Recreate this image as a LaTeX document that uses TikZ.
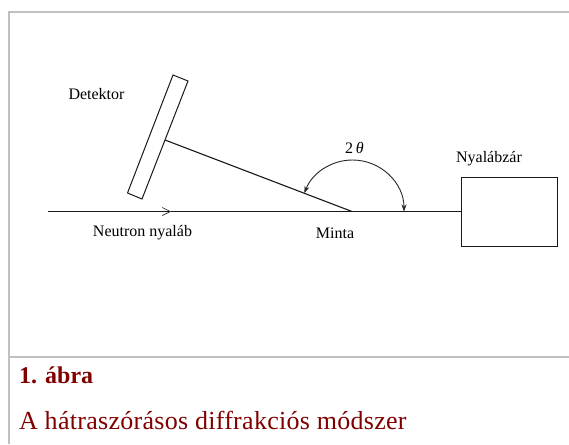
\documentclass[tikz,border=0pt]{standalone}
\usepackage{fontspec}
\setmainfont{Liberation Serif}
\usetikzlibrary{arrows.meta}
\definecolor{capred}{HTML}{800000}
\definecolor{framegray}{HTML}{C0C0C0}
\tikzset{
  lbl/.style={inner sep=0pt,font=\fontsize{16}{18}\selectfont,text=black},
  captext/.style={inner sep=0pt,anchor=base west,text=capred},
  framerule/.style={draw=framegray,line width=2.6pt},
  ink/.style={draw=black!90,line width=1pt},
}
\begin{document}
\begin{tikzpicture}[x=1pt,y=-1pt]
\useasboundingbox (0,0) rectangle (569,444);
\fill[white] (0,0) rectangle (569,444);
% frame
\coordinate (tl) at (9,12);
\coordinate (tr) at (569,12);
\coordinate (bl) at (9,444);
\coordinate (ml) at (9,357);
\coordinate (mr) at (569,357);
\draw[framerule] (bl) -- (tl) -- (tr);
\draw[framerule] (ml) -- (mr);
% detector
\coordinate (d1) at (173,75);
\coordinate (d2) at (188,81);
\coordinate (d3) at (142,199);
\coordinate (d4) at (127.5,193);
\draw[ink] (d1) -- (d2) -- (d3) -- (d4) -- cycle;
% shutter box
\node[ink,draw,minimum width=96pt,minimum height=69pt,inner sep=0pt,anchor=north west] (box) at (461,177) {};
% beam
\coordinate (src) at (48,211.5);
\coordinate (mid) at (171,211.5);
\coordinate (samp) at (352,211.5);
\coordinate (dmid) at (165,140);
\draw[ink,-{Straight Barb[length=8pt,width=8pt,line width=0.6pt]}] (src) -- (mid);
\draw[ink] (mid) -- (samp) -- (samp -| box.west);
\draw[ink,line width=1.1pt] (dmid) -- (samp);
% angle arc
\coordinate (a1) at (404,211.5);
\draw[draw=black!85,line width=0.9pt,{Stealth[length=7pt,width=5pt]}-{Stealth[length=7pt,width=5pt]}]
  (a1) arc[start angle=0,end angle=-159,radius=51.5];
% labels
\node[lbl] (det) at (96.5,94) {Detektor};
\node[lbl] (neu) at (142.5,233) {Neutron nyaláb};
\node[lbl] (min) at (335,233.5) {Minta};
\node[lbl] (nya) at (489,159) {Nyalábzár};
\node[lbl] (th) at (354.5,147.5) {2\,{\itshape θ}};
% caption
\node[captext,font=\fontsize{24}{28}\selectfont\bfseries] (c1) at (19,383) {1. ábra};
\node[captext,font=\fontsize{26}{30}\selectfont\addfontfeature{LetterSpace=1.1}] (c2) at (19,429) {A hátraszórásos diffrakciós módszer};
\end{tikzpicture}
\end{document}
